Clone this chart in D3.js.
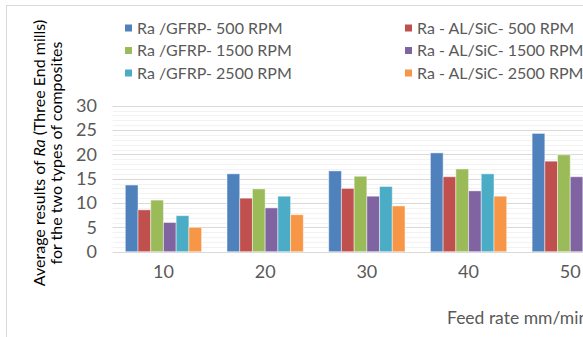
<!DOCTYPE html>
<html>
<head>
<meta charset="utf-8">
<script src="https://cdn.jsdelivr.net/npm/d3@7"></script>
<style>
  body { margin: 0; background: #fff; }
  svg { display: block; font-family: Lato, "Open Sans", sans-serif; }
</style>
</head>
<body>
<div id="chart"></div>
<script>
// data
const feedRates = ["10", "20", "30", "40", "50"];
const seriesNames = [
  "Ra /GFRP- 500 RPM",
  "Ra - AL/SiC- 500 RPM",
  "Ra /GFRP- 1500 RPM",
  "Ra - AL/SiC- 1500 RPM",
  "Ra /GFRP- 2500 RPM",
  "Ra - AL/SiC- 2500 RPM"
];
const gfrp500 = [13.7, 16.0, 16.6, 20.3, 24.3];
const alsic500 = [8.6, 11.0, 13.0, 15.4, 18.6];
const gfrp1500 = [10.6, 12.9, 15.5, 17.0, 19.9];
const alsic1500 = [6.0, 9.0, 11.4, 12.5, 15.4];
const gfrp2500 = [7.4, 11.4, 13.4, 16.0, 19.5];
const alsic2500 = [5.0, 7.6, 9.4, 11.4, 13.5];
const yTicks = [0, 5, 10, 15, 20, 25, 30];

const colors = ["#4F81BD", "#C0504D", "#9BBB59", "#8064A2", "#4BACC6", "#F79646"];
const values = [gfrp500, alsic500, gfrp1500, alsic1500, gfrp2500, alsic2500];

const width = 583, height = 337;
const svg = d3.select("#chart").append("svg")
  .attr("width", width).attr("height", height);

// outer chart border (cropped on right and bottom)
svg.append("rect")
  .attr("x", 6.5).attr("y", 5.5)
  .attr("width", 700).attr("height", 400)
  .style("fill", "none").style("stroke", "#D9D9D9");

// scales
const plotLeft = 112.6, step = 101.7;
const x = d3.scaleBand()
  .domain(feedRates)
  .range([plotLeft, plotLeft + step * feedRates.length])
  .paddingInner(0.25)
  .paddingOuter(0.125);
const xs = d3.scaleBand()
  .domain(d3.range(seriesNames.length))
  .range([0, x.bandwidth()]);
const y = d3.scaleLinear().domain([0, 30]).range([251.7, 105.7]);

// grid: minor then major
svg.append("g")
  .selectAll("line")
  .data(d3.range(1, 30).filter(v => v % 5 !== 0))
  .join("line")
    .attr("x1", plotLeft).attr("x2", width)
    .attr("y1", d => Math.round(y(d)) + 0.5).attr("y2", d => Math.round(y(d)) + 0.5)
    .style("stroke", "#F2F2F2");
svg.append("g")
  .selectAll("line")
  .data(yTicks.slice(1))
  .join("line")
    .attr("x1", plotLeft).attr("x2", width)
    .attr("y1", d => Math.round(y(d)) + 0.5).attr("y2", d => Math.round(y(d)) + 0.5)
    .style("stroke", "#D9D9D9");

// bars
svg.append("g")
  .selectAll("g")
  .data(values)
  .join("g")
    .style("fill", (d, i) => colors[i])
  .selectAll("rect")
  .data((d, i) => d.map((v, j) => ({ v, j, i })))
  .join("rect")
    .attr("x", d => x(feedRates[d.j]) + xs(d.i))
    .attr("y", d => y(d.v))
    .attr("width", xs.bandwidth())
    .attr("height", d => y(0) - y(d.v))
    .style("stroke", "rgba(255,255,255,0.45)")
    .style("stroke-width", 1);

// baseline
svg.append("line")
  .attr("x1", plotLeft).attr("x2", width)
  .attr("y1", Math.round(y(0)) + 0.5).attr("y2", Math.round(y(0)) + 0.5)
  .style("stroke", "#D9D9D9");

// y tick labels
svg.append("g")
  .selectAll("text")
  .data(yTicks)
  .join("text")
    .attr("x", 97)
    .attr("y", d => y(d))
    .attr("dy", "0.35em")
    .attr("text-anchor", "end")
    .style("font-size", "18px")
    .style("fill", "#595959")
    .text(d => d);

// x tick labels
svg.append("g")
  .selectAll("text")
  .data(feedRates)
  .join("text")
    .attr("x", d => x(d) + x.bandwidth() / 2)
    .attr("y", 272)
    .attr("dy", "0.35em")
    .attr("text-anchor", "middle")
    .style("font-size", "18px")
    .style("fill", "#595959")
    .text(d => d);

// x title
svg.append("text")
  .attr("x", 447).attr("y", 318).attr("dy", "0.35em")
  .style("font-size", "17.5px")
  .style("fill", "#595959")
  .text("Feed rate mm/min");

// y title (two lines)
const yTitle = svg.append("g")
  .attr("transform", "translate(39,153) rotate(-90)");
const t1 = yTitle.append("text")
  .attr("text-anchor", "middle").attr("dy", "0.35em")
  .style("font-size", "16px").style("fill", "#000");
t1.append("tspan").text("Average results of ");
t1.append("tspan").style("font-style", "italic").text("Ra");
t1.append("tspan").text(" (Three End mills)");
yTitle.append("text")
  .attr("y", 17)
  .attr("text-anchor", "middle").attr("dy", "0.35em")
  .style("font-size", "16px").style("fill", "#000")
  .text("for the  two types of composites");

// legend: GFRP in left column, AL/SiC in right column
const legend = svg.append("g")
  .selectAll("g")
  .data(seriesNames.map((name, i) => ({ name, i })))
  .join("g")
    .attr("transform", d => {
      const col = d.i % 2, row = Math.floor(d.i / 2);
      return `translate(${col ? 405 : 125},${28 + row * 22.5})`;
    });
legend.append("rect")
  .attr("x", 0).attr("y", -3.5)
  .attr("width", 7).attr("height", 7)
  .style("fill", d => colors[d.i]);
legend.append("text")
  .attr("x", 12).attr("dy", "0.35em")
  .style("font-size", "16px")
  .style("fill", "#595959")
  .text(d => d.name);
</script>
</body>
</html>
